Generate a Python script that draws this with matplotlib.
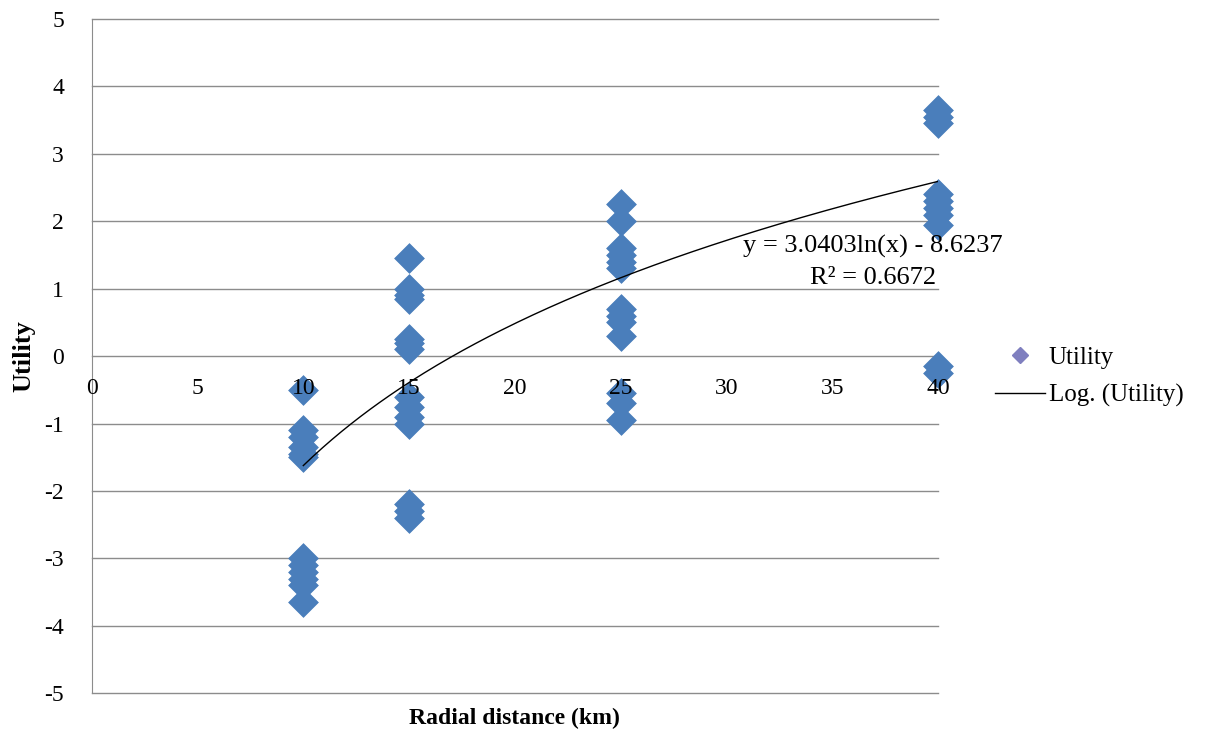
import numpy as np
import matplotlib
matplotlib.use("Agg")
import matplotlib.pyplot as plt
from matplotlib.lines import Line2D

plt.rcParams['font.family'] = ['Liberation Serif', 'DejaVu Serif']

# ── data ──
x10 = [10] * 12
y10 = [-0.5, -1.1, -1.2, -1.35, -1.45, -1.5, -3.0, -3.1, -3.2, -3.3, -3.4, -3.65]
x15 = [15] * 14
y15 = [1.45, 1.0, 0.9, 0.85, 0.25, 0.2, 0.1, -0.6, -0.75, -0.9, -1.0, -2.2, -2.3, -2.4]
x25 = [25] * 13
y25 = [2.25, 2.0, 1.6, 1.5, 1.4, 1.3, 0.7, 0.6, 0.5, 0.3, -0.55, -0.7, -0.95]
x40 = [40] * 10
y40 = [3.65, 3.55, 3.45, 2.4, 2.3, 2.2, 2.1, 1.95, -0.15, -0.25]

fit_a = 3.0403
fit_b = -8.6237
fit_r2 = 0.6672

xs = np.array(x10 + x15 + x25 + x40)
ys = np.array(y10 + y15 + y25 + y40)

xticks = [0, 5, 10, 15, 20, 25, 30, 35, 40]
yticks = [-5, -4, -3, -2, -1, 0, 1, 2, 3, 4, 5]

# ── plot ──
fig = plt.figure(figsize=(12.06, 7.29), dpi=100)
ax = fig.add_axes([0.076, 0.049, 0.702, 0.925])

grid_c = '#8c8c8c'
for yv in yticks:
    ax.axhline(yv, color=grid_c, linewidth=1.0, zorder=1, clip_on=False)

ax.scatter(xs, ys, marker='D', s=230, color='#4a7ebb', edgecolors='#4a7ebb',
           linewidths=0.5, zorder=3, clip_on=False)

xf = np.linspace(10, 40, 200)
ax.plot(xf, fit_a * np.log(xf) + fit_b, color='black', linewidth=1.0, zorder=4)

ax.set_xlim(0, 40)
ax.set_ylim(-5, 5)
ax.set_yticks(yticks)
ax.set_yticklabels([str(v) for v in yticks], fontsize=17)
ax.set_xticks([])

for s in ['top', 'right', 'bottom']:
    ax.spines[s].set_visible(False)
ax.spines['left'].set_color(grid_c)
ax.tick_params(axis='y', length=0, pad=20)

# x tick labels sitting under the zero line
for xv in xticks:
    ax.text(xv, -0.33, str(xv), ha='center', va='top', fontsize=17, zorder=5)

ax.text(0.499, -0.022, 'Radial distance (km)', transform=ax.transAxes, ha='center',
        va='top', fontsize=17, fontweight='bold')
ax.text(-0.08, 0.5, 'Utility', transform=ax.transAxes, rotation=90, ha='center',
        va='center', fontsize=19, fontweight='bold')

ax.text(36.9, 1.62, f'y = {fit_a:.4f}ln(x) - {-fit_b:.4f}', ha='center', va='center',
        fontsize=19, zorder=5)
ax.text(36.9, 1.16, f'R² = {fit_r2:.4f}', ha='center', va='center', fontsize=19, zorder=5)

handles = [Line2D([], [], marker='D', linestyle='none', color='#7f7fbf', markersize=8),
           Line2D([], [], color='black', linewidth=1.0)]
fig.legend(handles, ['Utility', 'Log. (Utility)'], loc='center left',
           bbox_to_anchor=(0.825, 0.483), frameon=False, fontsize=18,
           handlelength=2.0, handletextpad=0.15, labelspacing=0.6,
           borderaxespad=0, borderpad=0)

fig.savefig('out.png', dpi=100)
